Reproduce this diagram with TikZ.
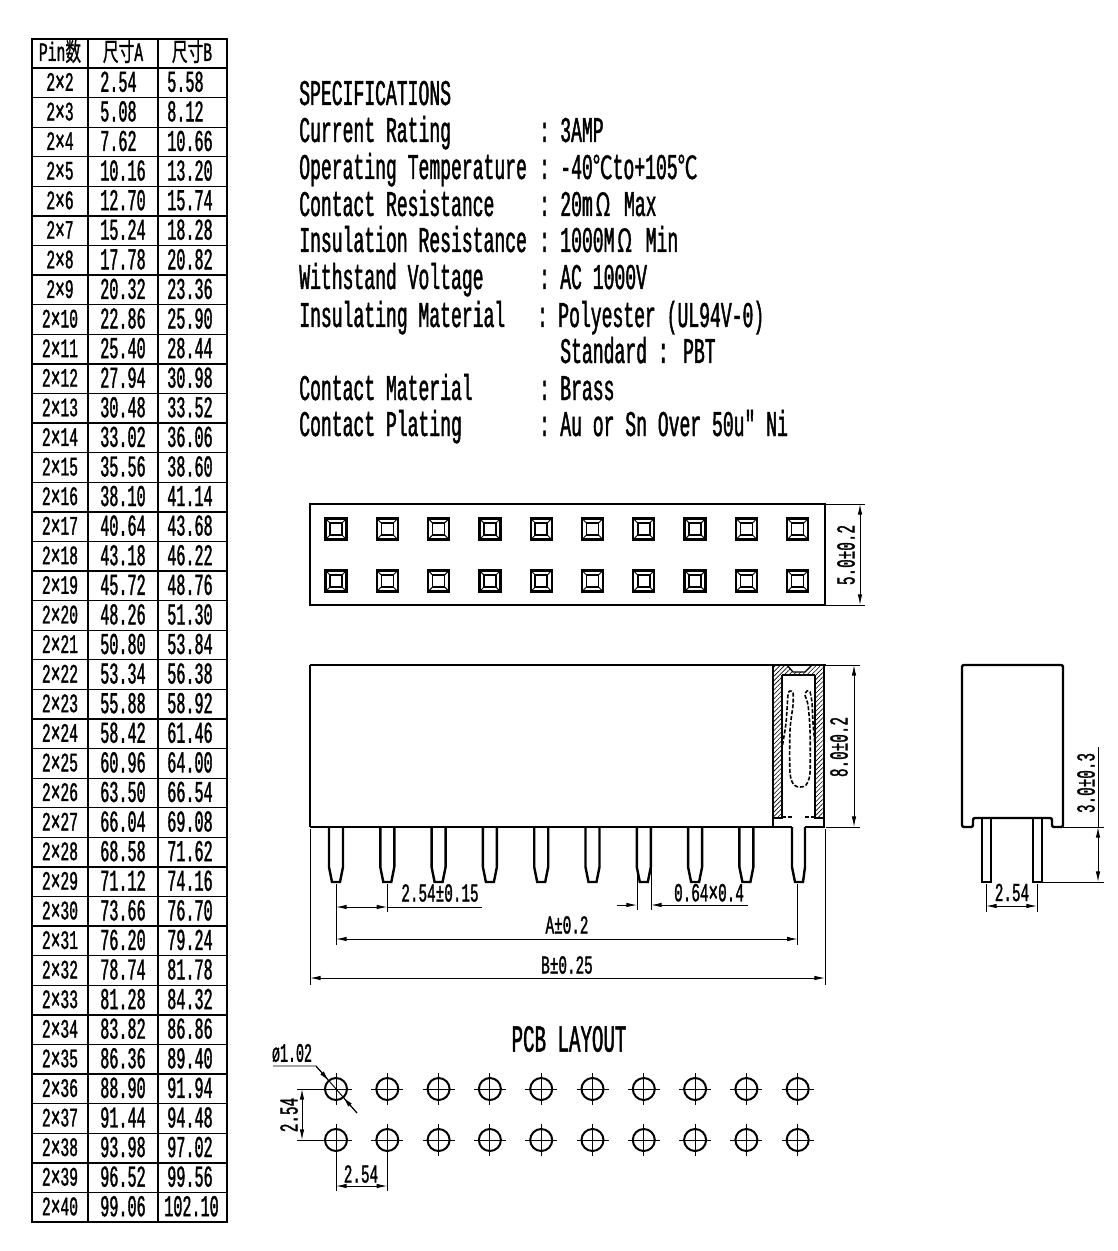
\documentclass[tikz,border=0pt]{standalone}
\usepackage{fontspec}
\usepackage{tikz}
\usetikzlibrary{arrows.meta,patterns.meta}
\newfontfamily\cad[FakeStretch=0.5,FakeBold=1.2]{Liberation Mono}
\newfontfamily\cadpin[FakeStretch=0.55,FakeBold=1.2]{Liberation Mono}
\newfontfamily\cjk[FakeStretch=0.62,FakeBold=1]{Noto Sans CJK SC}
\newcommand{\bigx}{\raisebox{-0.6pt}{\smash{\fontsize{22}{22}\selectfont ×}}}
\newcommand{\wide}[1]{{\cjk\fontsize{24}{24}\selectfont #1}}
\tikzset{
  outline/.style={line width=1.8pt,line join=miter},
  thinline/.style={line width=0.7pt},
  tableline/.style={line width=1pt},
  contact/.style={line width=1.2pt,dash pattern=on 3pt off 1.4pt},
  tip/.style={-{Latex[length=8pt,width=3.4pt]}},
  dimline/.style={line width=0.7pt,{Latex[length=8pt,width=3.4pt]}-{Latex[length=8pt,width=3.4pt]}},
  specs/.style={anchor=base west,inner sep=0pt,font=\cad\fontsize{27.1}{28}\selectfont},
  cell/.style={anchor=base west,inner sep=0pt,font=\cad\fontsize{22.7}{24}\selectfont},
  pincell/.style={anchor=base,inner sep=0pt,font=\cadpin\fontsize{20}{22}\selectfont},
  dimtext/.style={inner sep=0pt,font=\cadpin\fontsize{19.5}{22}\selectfont}
}
\begin{document}
\begin{tikzpicture}[x=0.75pt,y=-0.75pt]
\useasboundingbox (0,0) rectangle (1117,1251);

% Size table
\draw[tableline] (32,39) rectangle (227,1222);
\foreach \xpos in {88,158} \draw[tableline] (\xpos,39) -- (\xpos,1222);
\draw[tableline] (32,68) -- (227,68);
\node[pincell] (headpin) at (60,61) {Pin{\cjk\fontsize{19}{19}\selectfont 数}};
\node[pincell] (heada) at (123,61) {{\cjk\fontsize{19}{19}\selectfont 尺寸}A};
\node[pincell] (headb) at (192,61) {{\cjk\fontsize{19}{19}\selectfont 尺寸}B};
\foreach \pin/\sizea/\sizeb [count=\row] in {
  2/2.54/5.58, 3/5.08/8.12, 4/7.62/10.66, 5/10.16/13.20, 6/12.70/15.74,
  7/15.24/18.28, 8/17.78/20.82, 9/20.32/23.36, 10/22.86/25.90, 11/25.40/28.44,
  12/27.94/30.98, 13/30.48/33.52, 14/33.02/36.06, 15/35.56/38.60, 16/38.10/41.14,
  17/40.64/43.68, 18/43.18/46.22, 19/45.72/48.76, 20/48.26/51.30, 21/50.80/53.84,
  22/53.34/56.38, 23/55.88/58.92, 24/58.42/61.46, 25/60.96/64.00, 26/63.50/66.54,
  27/66.04/69.08, 28/68.58/71.62, 29/71.12/74.16, 30/73.66/76.70, 31/76.20/79.24,
  32/78.74/81.78, 33/81.28/84.32, 34/83.82/86.86, 35/86.36/89.40, 36/88.90/91.94,
  37/91.44/94.48, 38/93.98/97.02, 39/96.52/99.56, 40/99.06/102.10} {
  \pgfmathsetmacro\bpos{\row==39 ? 164 : 167}
  \draw[tableline] (32,{68+29.59*\row}) -- (227,{68+29.59*\row});
  \node[pincell] (pin\row) at (60,{68+29.59*(\row-0.5)+8}) {2\bigx\pin};
  \node[cell] (a\row) at (100,{68+29.59*(\row-0.5)+9}) {\sizea};
  \node[cell] (b\row) at (\bpos,{68+29.59*(\row-0.5)+9}) {\sizeb};
}

% Specifications
\node[specs] (spectitle) at (299,105) {SPECIFICATIONS};
\node[specs] (current) at (299,142) {Current Rating};
\node[specs] at (539,142) {:};
\node[specs] at (560,142) {3AMP};
\node[specs] (temp) at (299,179) {Operating Temperature};
\node[specs] at (539,179) {:};
\node[specs] at (560,179) {-40\wide{℃}to+105\wide{℃}};
\node[specs] (resist) at (299,216) {Contact Resistance};
\node[specs] at (539,216) {:};
\node[specs] at (560,216) {20m\kern2pt\wide{Ω}\kern2pt\ Max};
\node[specs] (insul) at (299,252) {Insulation Resistance};
\node[specs] at (539,252) {:};
\node[specs] at (560,252) {1000M\kern2pt\wide{Ω}\kern2pt\ Min};
\node[specs] (volt) at (299,289) {Withstand Voltage};
\node[specs] at (539,289) {:};
\node[specs] at (560,289) {AC 1000V};
\node[specs] (mat) at (299,327) {Insulating Material};
\node[specs] at (537,327) {:};
\node[specs] at (558,327) {Polyester (UL94V-0)};
\node[specs] at (560,363) {Standard : PBT};
\node[specs] (cmat) at (299,400) {Contact Material};
\node[specs] at (539,400) {:};
\node[specs] at (560,400) {Brass};
\node[specs] (plate) at (299,436) {Contact Plating};
\node[specs] at (539,436) {:};
\node[specs] at (560,436) {Au or Sn Over 50u″ Ni};

% Top view
\draw[outline] (310,504) rectangle (825,605);
\foreach \xpos in {336,387.3,438.6,489.9,541.2,592.5,643.8,695.1,746.4,797.7}
  \foreach \ypos in {529,581} {
    \draw[line width=1.7pt] (\xpos-10.5,\ypos-10.5) rectangle (\xpos+10.5,\ypos+10.5);
    \draw[line width=1.1pt] (\xpos-6,\ypos-6) rectangle (\xpos+6,\ypos+6);
    \draw[thinline] (\xpos-10,\ypos-10) -- (\xpos-6,\ypos-6) (\xpos+10,\ypos-10) -- (\xpos+6,\ypos-6)
      (\xpos-10,\ypos+10) -- (\xpos-6,\ypos+6) (\xpos+10,\ypos+10) -- (\xpos+6,\ypos+6);
  }
\draw[thinline] (825,504) -- (865,504) (825,605) -- (865,605);
\draw[dimline] (860,504) -- (860,605);
\node[dimtext,rotate=90] (widthtext) at (846,555) {5.0±0.2};

% Front view
\draw[thinline,line width=1pt] (310,665) -- (826,665);
\draw[outline] (310,665) -- (310,827);
\draw[thinline,line width=1pt] (310,827) -- (773,827);
\foreach \xpos in {336,387.3,438.6,489.9,541.2,592.5,643.8,695.1,746.4}
  \draw[outline] (\xpos-7,827) -- (\xpos-7,867) -- (\xpos-4,882) -- (\xpos+4,882) -- (\xpos+7,867) -- (\xpos+7,827);

% Section through the last contact
\fill[pattern={Lines[angle=45,distance=2.4pt,line width=0.45pt]}] (773,665) -- (787,665) -- (793,672) -- (805,672) -- (812,665) -- (824,665)
  -- (824,818) -- (815,818) -- (815,675) -- (782,675) -- (782,818) -- (773,818) -- cycle;
\draw[outline] (773,665) -- (773,827) -- (792,827);
\draw[outline] (824,665) -- (824,827) -- (805,827);
\draw[outline] (782,675) -- (815,675);
\draw[outline] (782,675) -- (782,818) -- (773,818);
\draw[outline] (815,675) -- (815,818) -- (824,818);
\draw[line width=1pt] (787,665) -- (793,672) -- (805,672) -- (812,665);
\draw[contact,line width=1.5pt] (782,817) -- (792,817) (805,817) -- (815,817);
\draw[outline] (792,827) -- (792,867) -- (795,882) -- (803,882) -- (805,867) -- (805,827);
\draw[contact] plot[smooth,tension=0.45] coordinates {(782.5,745) (786,723) (788,695) (790,691) (793,693) (793,705) (790,730) (790,773) (794,785) (800,787) (806,785) (810,773) (810,730) (808,705) (805,695) (807,691) (810,692) (812,703) (813,723) (815,745)};

\draw[thinline] (826,665) -- (860,665) (826,827) -- (860,827);
\draw[dimline] (854,665) -- (854,827);
\node[dimtext,rotate=90] (heighttext) at (839,747) {8.0±0.2};

% Front view dimensions
\draw[thinline] (336,884) -- (336,945) (387.3,884) -- (387.3,912) (797.7,884) -- (797.7,945);
\draw[thinline] (310,829) -- (310,985) (825,829) -- (825,985);
\draw[thinline] (637,829) -- (637,910) (651,829) -- (651,910);
\draw[dimline] (336,907) -- (387.3,907);
\draw[thinline] (387.3,907) -- (482,907);
\node[dimtext] (pitchtext) at (440,893) {2.54±0.15};
\draw[thinline,tip] (617,905) -- (637,905);
\draw[thinline,tip] (748,905) -- (651,905);
\node[dimtext] (pintext) at (709,893) {0.64\bigx0.4};
\draw[dimline] (336,939) -- (797.7,939);
\node[dimtext] (atext) at (567,925) {A±0.2};
\draw[dimline] (310,978) -- (825,978);
\node[dimtext] (btext) at (567,965) {B±0.25};

% End view
\draw[outline,rounded corners=1.5pt] (962,827) -- (962,665) -- (1063,665) -- (1063,827) -- (1052,827) -- (1052,818) -- (973,818) -- (973,827) -- cycle;
\draw[outline] (982,818) -- (982,882) -- (991,882) -- (991,818);
\draw[outline] (1033,818) -- (1033,882) -- (1042,882) -- (1042,818);
\draw[thinline] (1063,827) -- (1104,827) (1042,882) -- (1104,882);
\draw[thinline] (1098,747) -- (1098,827);
\draw[dimline] (1098,827) -- (1098,882);
\node[dimtext,rotate=90] (legtext) at (1086,783) {3.0±0.3};
\draw[thinline] (986,884) -- (986,912) (1037,884) -- (1037,912);
\draw[dimline] (986,906) -- (1037,906);
\node[dimtext] (endpitch) at (1012,892.5) {2.54};

% PCB layout
\node[inner sep=0pt,font=\cad\fontsize{28.7}{30}\selectfont] (pcbtitle) at (569,1039) {PCB LAYOUT};
\foreach \xpos in {336,387.3,438.6,489.9,541.2,592.5,643.8,695.1,746.4,797.7}
  \foreach \ypos in {1089,1140} {
    \draw[line width=1.5pt] (\xpos,\ypos) circle (11);
    \draw[thinline] (\xpos-16,\ypos) -- (\xpos+16,\ypos) (\xpos,\ypos-16) -- (\xpos,\ypos+16);
  }
\node[inner sep=0pt,font=\cad\fontsize{20}{22}\selectfont] (holetext) at (292,1053) {ø1.02};
\draw[thinline] (273,1066) -- (316,1066) -- (357,1113);
\draw[thinline,tip] (316,1066) -- (329,1081);
\draw[thinline,tip] (357,1113) -- (343,1097);
\draw[thinline] (297,1089) -- (320,1089) (297,1140) -- (320,1140);
\draw[dimline] (302,1089) -- (302,1140);
\node[dimtext,rotate=90] (rowtext) at (289,1115) {2.54};
\draw[thinline] (336,1156) -- (336,1191) (387.3,1156) -- (387.3,1191);
\draw[dimline] (336,1186) -- (387.3,1186);
\node[dimtext] (coltext) at (361,1174) {2.54};
\end{tikzpicture}
\end{document}
